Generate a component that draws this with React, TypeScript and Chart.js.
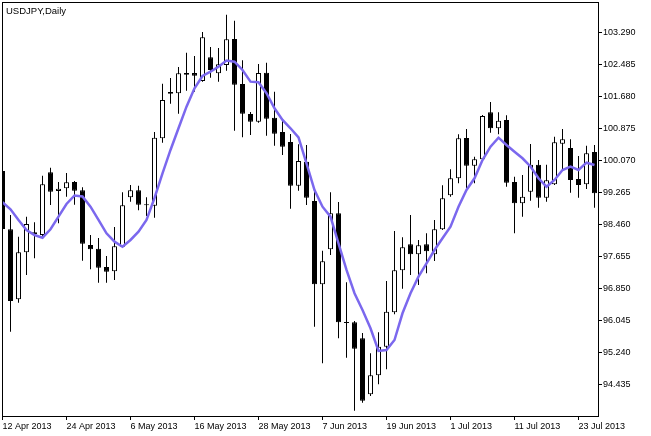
import { useEffect, useRef } from "react";
import { Chart, registerables } from "chart.js";

Chart.register(...registerables);

const symbolTitle = "USDJPY,Daily";
const tickLabels = ["12 Apr 2013", "24 Apr 2013", "6 May 2013", "16 May 2013", "28 May 2013", "7 Jun 2013", "19 Jun 2013", "1 Jul 2013", "11 Jul 2013", "23 Jul 2013"];
const barsPerTick = 8;
const priceTicks = [103.29, 102.485, 101.68, 100.875, 100.07, 99.265, 98.46, 97.655, 96.85, 96.045, 95.24, 94.435];
const yMin = 93.643;
const yMax = 104.057;

const opens = [
  99.806, 98.340, 96.579, 97.761, 98.264, 98.196, 99.774, 99.303, 99.371, 99.530,
  99.321, 97.945, 97.852, 97.391, 97.283, 97.902, 99.145, 99.321, 98.969, 98.933,
  100.629, 101.794, 101.761, 102.229, 102.272, 102.070, 102.667, 102.264, 102.473, 103.127,
  101.995, 101.240, 101.046, 102.279, 101.147, 100.787, 100.536, 99.437, 100.040, 99.052,
  96.956, 97.837, 98.742, 96.008, 96.000, 95.598, 94.189, 94.667, 95.386, 96.252,
  97.308, 97.962, 97.711, 97.962, 97.711, 98.340, 99.195, 99.623, 100.636, 99.940,
  100.101, 101.283, 100.881, 101.089, 99.530, 98.994, 99.286, 99.965, 99.135, 99.472,
  100.493, 100.385, 99.605, 99.472, 100.284,
];
const highs = [
  99.831, 98.699, 98.154, 98.657, 98.516, 99.688, 99.889, 99.530, 99.756, 99.555,
  99.396, 98.196, 98.121, 97.668, 98.398, 99.271, 99.454, 99.437, 99.145, 100.787,
  102.002, 102.146, 102.423, 102.782, 102.699, 103.303, 102.926, 102.901, 103.738, 103.587,
  102.591, 101.291, 102.498, 102.531, 101.801, 101.064, 100.737, 100.478, 100.460, 99.354,
  97.801, 99.271, 99.026, 97.006, 96.033, 95.731, 95.220, 95.749, 97.039, 98.297,
  98.139, 98.699, 98.071, 98.239, 98.574, 99.447, 99.849, 100.730, 100.863, 100.166,
  101.215, 101.542, 101.283, 101.208, 99.663, 99.706, 100.486, 100.083, 99.965, 100.669,
  100.863, 100.604, 100.184, 100.443, 100.460,
];
const lows = [
  98.272, 95.764, 96.493, 97.190, 97.610, 98.139, 98.951, 98.491, 99.160, 98.959,
  97.550, 97.333, 96.996, 96.996, 97.064, 97.895, 99.034, 98.818, 98.674, 98.632,
  100.518, 101.499, 101.248, 101.826, 101.801, 102.053, 102.153, 102.053, 102.329, 100.820,
  100.654, 100.712, 101.021, 100.694, 100.443, 100.209, 98.858, 99.311, 98.950, 95.890,
  94.969, 97.693, 95.598, 95.110, 93.777, 93.978, 94.146, 94.441, 94.818, 96.202,
  96.845, 97.190, 96.939, 97.233, 97.542, 98.322, 99.160, 99.497, 99.379, 99.497,
  100.083, 100.770, 100.730, 99.411, 98.239, 98.657, 99.059, 98.883, 99.034, 99.454,
  99.849, 99.260, 99.135, 99.354, 98.883,
];
const closes = [
  98.347, 96.536, 97.761, 98.473, 98.214, 99.472, 99.286, 99.361, 99.522, 99.311,
  97.978, 97.837, 97.374, 97.273, 97.912, 98.943, 99.321, 98.959, 98.943, 100.644,
  101.592, 101.751, 102.264, 102.272, 102.204, 103.170, 102.347, 102.490, 103.119, 101.977,
  101.248, 101.046, 102.272, 101.122, 100.745, 100.418, 99.437, 100.058, 99.135, 96.956,
  97.535, 98.742, 96.000, 95.983, 95.336, 94.028, 94.667, 95.386, 96.267, 97.308,
  97.887, 97.711, 97.937, 97.786, 98.340, 99.120, 99.623, 100.629, 99.940, 100.101,
  101.190, 100.881, 101.072, 99.512, 98.994, 99.160, 99.965, 99.135, 99.572, 100.528,
  100.604, 99.580, 99.454, 100.252, 99.245,
];
const ma = [
  99.019, 98.843, 98.574, 98.322, 98.196, 98.128, 98.340, 98.657, 98.976, 99.190,
  99.165, 98.908, 98.574, 98.239, 98.028, 97.902, 98.071, 98.279, 98.574, 99.127,
  99.748, 100.335, 100.881, 101.424, 101.887, 102.196, 102.304, 102.430, 102.586, 102.556,
  102.347, 102.053, 102.038, 101.761, 101.384, 101.089, 100.881, 100.649, 100.000, 99.328,
  98.908, 98.657, 97.988, 97.316, 96.730, 96.310, 95.849, 95.278, 95.303, 95.555,
  96.227, 96.730, 97.147, 97.484, 97.819, 98.113, 98.405, 98.908, 99.328, 99.623,
  100.083, 100.418, 100.644, 100.460, 100.292, 100.126, 99.920, 99.623, 99.411, 99.580,
  99.831, 99.915, 99.831, 100.015, 99.957,
];

const FONT = "'Liberation Sans', Arial, sans-serif";

export default function App() {
  const ref = useRef<HTMLCanvasElement>(null);

  useEffect(() => {
    document.body.style.margin = "0";
    const canvas = ref.current;
    if (!canvas) return;
    const idx = opens.map((_, i) => i);
    const bodies = idx.map((i) => ({ x: i, y: [opens[i], closes[i]] }));
    const wicks = idx.map((i) => ({ x: i, y: [lows[i], highs[i]] }));
    const maPts = ma.map((v, i) => ({ x: i, y: v }));
    const bodyFill = idx.map((i) => (closes[i] >= opens[i] ? "#ffffff" : "#000000"));

    const framePlugin = {
      id: "frame",
      afterDraw(chart: any) {
        const { ctx, chartArea: a } = chart;
        ctx.save();
        ctx.strokeStyle = "#000";
        ctx.lineWidth = 1;
        ctx.strokeRect(a.left + 0.5, a.top + 0.5, a.right - a.left, a.bottom - a.top);
        ctx.fillStyle = "#000";
        ctx.font = "9.5px " + FONT;
        ctx.textBaseline = "alphabetic";
        ctx.textAlign = "left";
        ctx.fillText(symbolTitle, a.left + 4, a.top + 11.5);
        ctx.restore();
      },
    };

    const chart = new Chart(canvas, {
      type: "bar",
      data: {
        datasets: [
          {
            type: "line",
            data: maPts as any,
            borderColor: "#7B68EE",
            borderWidth: 2.5,
            pointRadius: 0,
            tension: 0,
            fill: false,
            order: 0,
          } as any,
          {
            type: "bar",
            data: bodies as any,
            backgroundColor: bodyFill,
            borderColor: "#000000",
            borderWidth: 1,
            borderSkipped: false,
            grouped: false,
            maxBarThickness: 5,
            minBarLength: 1,
            order: 1,
          } as any,
          {
            type: "bar",
            data: wicks as any,
            backgroundColor: "#000000",
            borderWidth: 0,
            grouped: false,
            maxBarThickness: 1,
            order: 2,
          } as any,
        ],
      },
      options: {
        animation: false,
        responsive: false,
        events: [],
        layout: { padding: { left: 2, top: 2, right: 0, bottom: 0 } },
        plugins: { legend: { display: false }, tooltip: { enabled: false }, title: { display: false } },
        scales: {
          x: {
            type: "linear",
            offset: false,
            min: -0.0625,
            max: 74.4375,
            afterBuildTicks: (s: any) => {
              s.ticks = tickLabels.map((_, k) => ({ value: k * barsPerTick }));
            },
            afterFit: (s: any) => {
              s.height = 20;
              s.paddingLeft = 0;
              s.paddingRight = 0;
            },
            grid: { offset: false, drawOnChartArea: false, drawTicks: true, tickLength: 4, color: "#000" },
            border: { display: false },
            ticks: {
              color: "#000",
              padding: 1,
              align: "start",
              maxRotation: 0,
              minRotation: 0,
              autoSkip: false,
              font: { family: FONT, size: 9 },
              callback: (_v: any, i: number) => tickLabels[i],
            },
          },
          y: {
            type: "linear",
            position: "right",
            min: yMin,
            max: yMax,
            afterBuildTicks: (s: any) => {
              s.ticks = priceTicks.map((v) => ({ value: v }));
            },
            afterFit: (s: any) => {
              s.width = 53;
              s.paddingTop = 0;
              s.paddingBottom = 0;
            },
            grid: { drawOnChartArea: false, drawTicks: true, tickLength: 4, color: "#000" },
            border: { display: false },
            ticks: {
              color: "#000",
              padding: 1,
              font: { family: FONT, size: 9 },
              callback: (v: any) => Number(v).toFixed(3),
            },
          },
        },
      } as any,
      plugins: [framePlugin],
    });
    return () => chart.destroy();
  }, []);

  return (
    <div style={{ width: 651, height: 436, background: "#fff" }}>
      <canvas ref={ref} width={651} height={436} style={{ display: "block" }} />
    </div>
  );
}
